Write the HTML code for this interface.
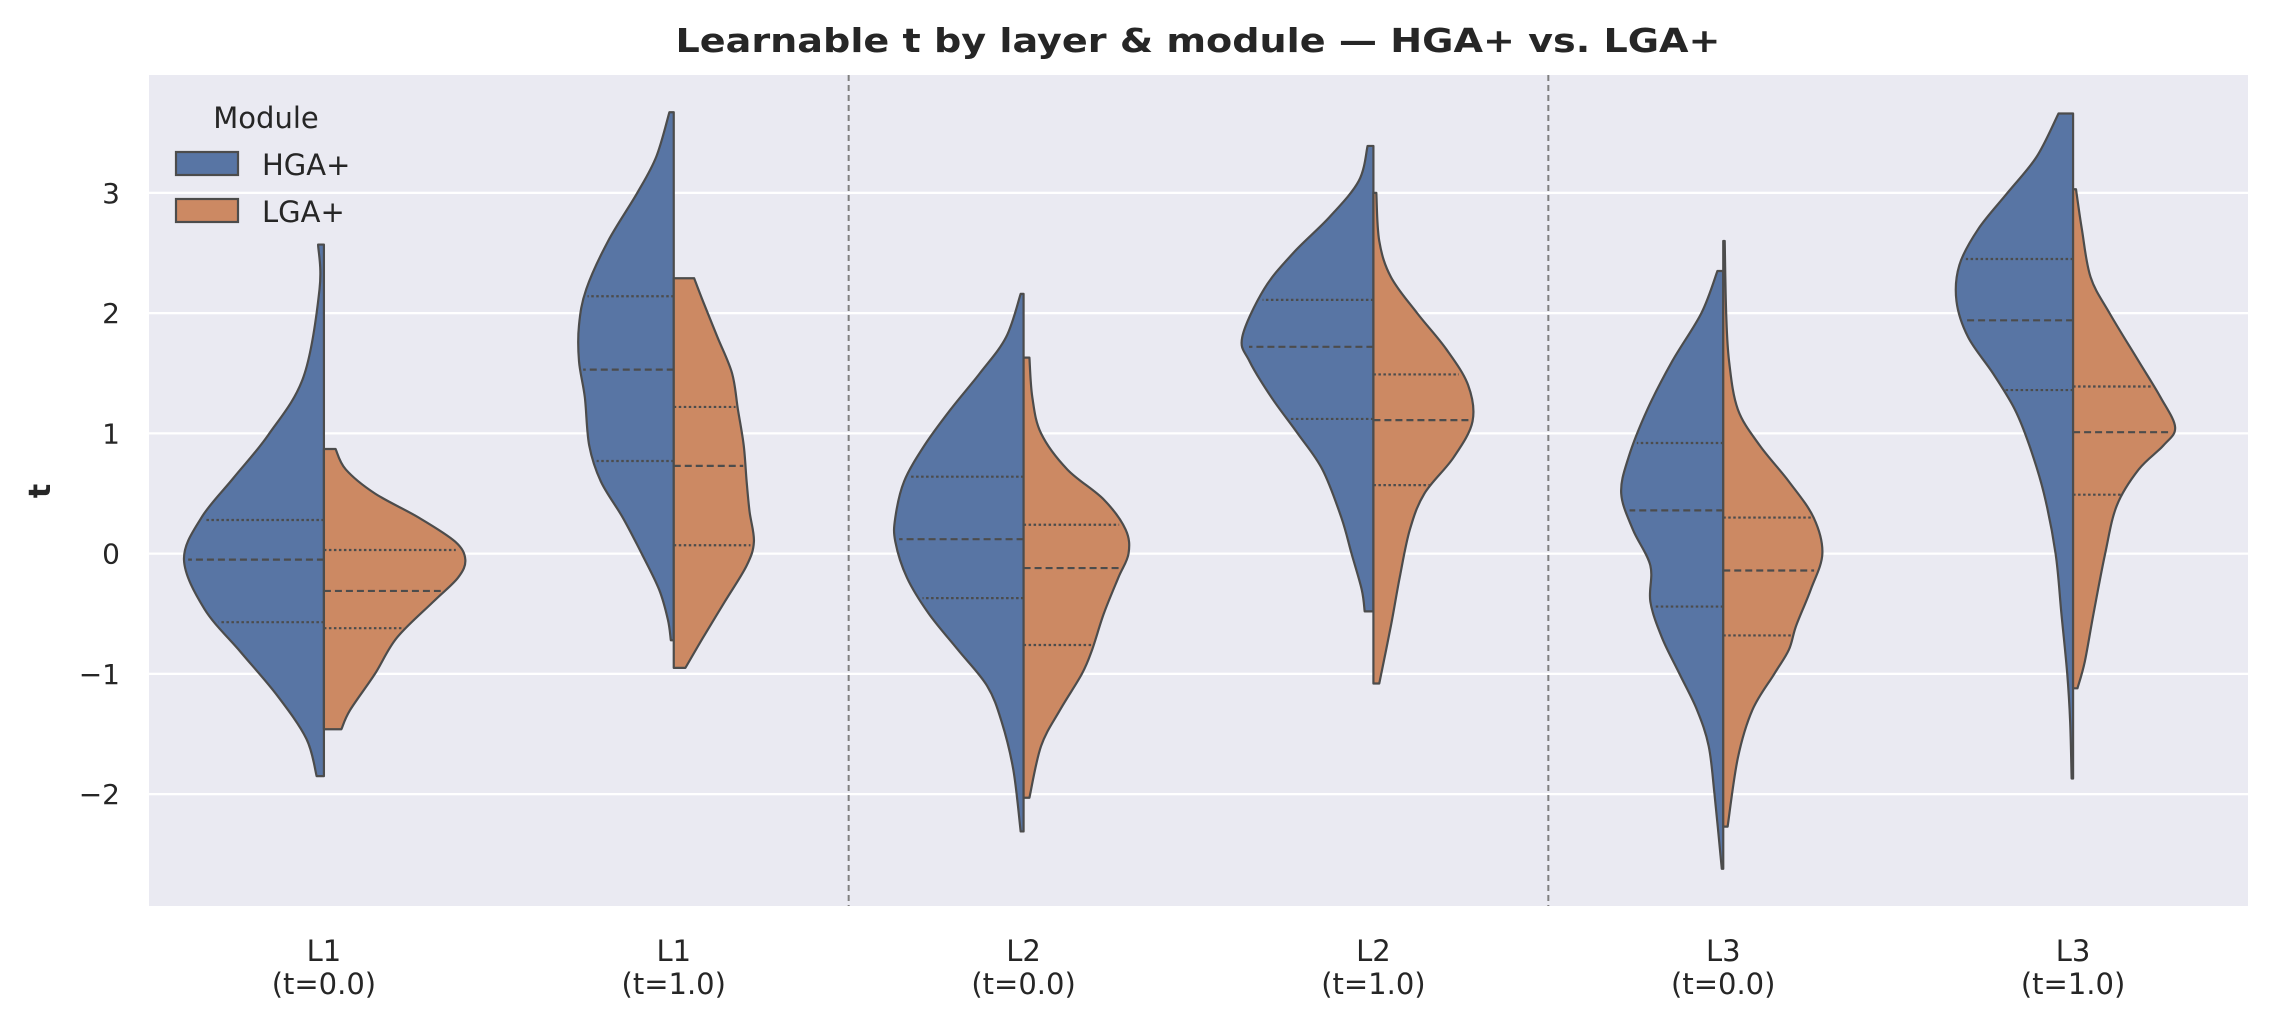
<!DOCTYPE html>
<html><head><meta charset="utf-8"><style>
html,body{margin:0;padding:0;background:#fff;}
svg{display:block;font-family:"DejaVu Sans","Liberation Sans",sans-serif;}
</style></head><body>
<svg id="chart" width="2273" height="1023" viewBox="0 0 2273 1023" xmlns="http://www.w3.org/2000/svg">
<rect x="149" y="75" width="2099" height="831" fill="#eaeaf2"/>
<g id="grid"></g>
<g id="dividers"></g>
<g id="violins"></g>
<g id="yticks"></g>
<g id="xticks"></g>
<text x="1198" y="52" text-anchor="middle" font-size="33" font-weight="bold" fill="#262626" textLength="1045" lengthAdjust="spacingAndGlyphs">Learnable t by layer &amp; module — HGA+ vs. LGA+</text>
<text transform="translate(50,491) rotate(-90)" text-anchor="middle" font-size="30" font-weight="bold" fill="#262626">t</text>
<g>
<text x="266" y="128" text-anchor="middle" font-size="29" fill="#262626">Module</text>
<rect x="176" y="152" width="62" height="23" fill="#5875a4" stroke="#4c4c4c" stroke-width="2.2"/>
<text x="262" y="175" font-size="29" fill="#262626">HGA+</text>
<rect x="176" y="199" width="62" height="23" fill="#cc8963" stroke="#4c4c4c" stroke-width="2.2"/>
<text x="262" y="222" font-size="29" fill="#262626">LGA+</text>
</g>
</svg>
<script>
const categories = ["L1|(t=0.0)","L1|(t=1.0)","L2|(t=0.0)","L2|(t=1.0)","L3|(t=0.0)","L3|(t=1.0)"];
const yTicks = [-2,-1,0,1,2,3];
const yTickLabels = ["\u22122","\u22121","0","1","2","3"];
// density profiles: value levels and relative half-widths (max ~96)
const hgaY = [
 [2.57,2.2,1.47,0.99,0.63,0.3,-0.05,-0.46,-0.82,-1.18,-1.54,-1.85],
 [3.67,3.3,3.0,2.6,2.2,1.9,1.6,1.3,0.9,0.6,0.3,0,-0.3,-0.55,-0.72],
 [2.16,1.8,1.5,1.2,0.9,0.6,0.3,0.1,-0.2,-0.5,-0.8,-1.1,-1.4,-1.8,-2.31],
 [3.39,3.1,2.8,2.5,2.2,1.8,1.6,1.3,1.0,0.7,0.3,0,-0.3,-0.48],
 [2.35,2.0,1.6,1.2,0.8,0.5,0.2,-0.1,-0.4,-0.7,-1.0,-1.3,-1.6,-2.0,-2.62],
 [3.66,3.3,3.0,2.7,2.4,2.1,1.8,1.5,1.2,0.9,0.5,0,-0.5,-1.0,-1.4,-1.87]];
const hgaW = [
 [4,3,14,38,62,84,96,82,57,32,12,5],
 [3,12,25,45,60,65,65,61,58,50,35,22,10,4,2],
 [2,12,30,50,68,82,88,88,80,65,45,25,15,7,2],
 [4,10,30,55,75,90,85,70,52,35,22,15,8,6],
 [4,15,35,52,65,70,62,50,50,42,30,18,10,6,1],
 [10,25,45,65,78,80,72,55,40,30,20,12,8,4,2,1]];
const lgaY = [
 [0.87,0.7,0.5,0.3,0.1,-0.05,-0.2,-0.4,-0.7,-1.0,-1.3,-1.46],
 [2.29,2.1,1.8,1.5,1.2,0.9,0.6,0.35,0.1,-0.1,-0.4,-0.7,-0.95],
 [1.63,1.3,1.0,0.7,0.45,0.2,0.0,-0.2,-0.5,-0.8,-1.0,-1.3,-1.6,-2.03],
 [3.0,2.6,2.3,2.0,1.7,1.4,1.1,0.8,0.5,0.2,-0.2,-0.6,-1.08],
 [2.6,2.0,1.6,1.2,0.9,0.6,0.3,0.0,-0.3,-0.6,-0.8,-1.0,-1.3,-1.7,-2.27],
 [3.03,2.7,2.3,2.0,1.6,1.3,1.05,0.9,0.7,0.4,0.0,-0.5,-0.9,-1.12]];
const lgaW = [
 [8,15,35,65,90,97,92,75,50,35,18,12],
 [14,20,30,40,44,48,50,52,55,50,35,20,8],
 [4,6,12,30,55,70,72,65,55,47,40,25,12,4],
 [2,4,12,30,50,65,68,55,35,25,18,12,4],
 [1,2,4,10,25,45,62,68,60,50,45,35,20,10,3],
 [2,6,12,25,45,60,70,62,45,30,22,14,8,3]];
const hgaQ = [[0.28,-0.05,-0.57],[2.14,1.53,0.77],[0.64,0.12,-0.37],[2.11,1.72,1.12],[0.92,0.36,-0.44],[2.45,1.94,1.36]];
const lgaQ = [[0.03,-0.31,-0.62],[1.22,0.73,0.07],[0.24,-0.12,-0.76],[1.49,1.11,0.57],[0.30,-0.14,-0.68],[1.39,1.01,0.49]];

const NS="http://www.w3.org/2000/svg";
const PL=149,PR=2248,PT=75,PB=906,YMAX=3.98,YMIN=-2.93;
const band=(PR-PL)/categories.length;
function yS(v){return PT+(YMAX-v)/(YMAX-YMIN)*(PB-PT);}
function xC(i){return PL+band*(i+0.5);}
function wS(w){return w/96*band*0.4;}
function mk(tag,attrs,parent){const e=document.createElementNS(NS,tag);for(const k in attrs)e.setAttribute(k,attrs[k]);parent.appendChild(e);return e;}

const grid=document.getElementById('grid');
yTicks.forEach((t,i)=>{
  const l=mk('line',{x1:PL,x2:PR,y1:yS(t),y2:yS(t),stroke:'#fff','stroke-width':2.2},grid);
  
  
  const tx=mk('text',{x:120,y:yS(t)+10,'text-anchor':'end','font-size':28,fill:'#262626'},document.getElementById('yticks'));
  tx.textContent=yTickLabels[i];
  
  
});
[2,4].forEach(k=>{
  const x=PL+band*k;
  const l=mk('line',{x1:x,x2:x,y1:PT,y2:PB,stroke:'#808080','stroke-width':2,'stroke-dasharray':'6,4'},document.getElementById('dividers'));
  
  
});
categories.forEach((c,i)=>{
  const parts=c.split('|');
  const g=document.getElementById('xticks');
  const t1=mk('text',{x:xC(i),y:961,'text-anchor':'middle','font-size':29,fill:'#262626'},g);
  t1.textContent=parts[0];
  
  
  const t2=mk('text',{x:xC(i),y:994,'text-anchor':'middle','font-size':29,fill:'#262626'},g);
  t2.textContent=parts[1];
  
  
});

function smooth(pts){
  let d='';
  for(let i=0;i<pts.length-1;i++){
    const p0=pts[Math.max(0,i-1)],p1=pts[i],p2=pts[i+1],p3=pts[Math.min(pts.length-1,i+2)];
    const c1=[p1[0]+(p2[0]-p0[0])/6,p1[1]+(p2[1]-p0[1])/6];
    const c2=[p2[0]-(p3[0]-p1[0])/6,p2[1]-(p3[1]-p1[1])/6];
    d+=` C${c1[0]},${c1[1]} ${c2[0]},${c2[1]} ${p2[0]},${p2[1]}`;
  }
  return d;
}
function widthAt(ys,ws,v){
  for(let k=0;k<ys.length-1;k++){
    if(v<=ys[k]&&v>=ys[k+1]){const f=(ys[k]-v)/(ys[k]-ys[k+1]);return ws[k]+(ws[k+1]-ws[k])*f;}
  }
  return 0;
}
const vg=document.getElementById('violins');
function half(i,ys,ws,qs,side,color,name){
  const cx=xC(i);
  const pts=ys.map((v,k)=>[cx+side*wS(ws[k]),yS(v)]);
  let d=`M${cx},${yS(ys[0])} L${pts[0][0]},${pts[0][1]}`+smooth(pts)+` L${cx},${yS(ys[ys.length-1])} Z`;
  const p=mk('path',{d:d,fill:color,stroke:'#4c4c4c','stroke-width':2.2,'stroke-linejoin':'round'},vg);
  
  
  qs.forEach((q,k)=>{
    const w=wS(widthAt(ys,ws,q))*0.97;
    const l=mk('line',{x1:cx,x2:cx+side*w,y1:yS(q),y2:yS(q),stroke:'#4c4c4c','stroke-width':2.2,'stroke-dasharray':k===1?'7,4':'2.5,2.5'},vg);
    
    
  });
}
categories.forEach((c,i)=>{
  half(i,hgaY[i],hgaW[i],hgaQ[i],-1,'#5875a4','violin-hga');
  half(i,lgaY[i],lgaW[i],lgaQ[i],1,'#cc8963','violin-lga');
});
</script>
</body></html>
